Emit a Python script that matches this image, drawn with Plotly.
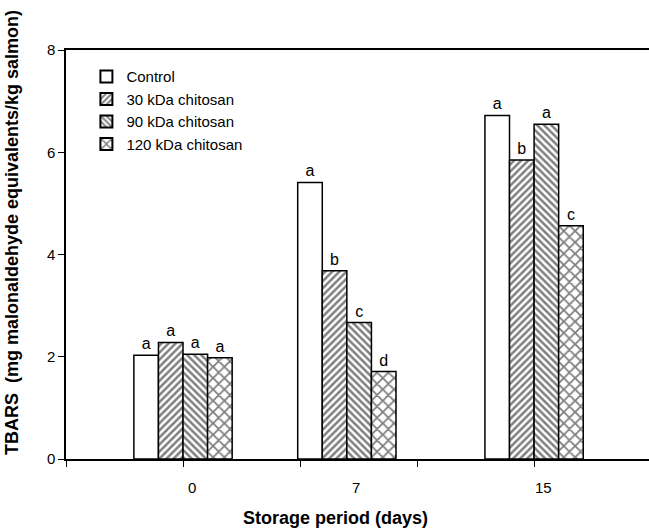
import plotly.graph_objects as go

days = [0, 7, 15]
series_names = ["Control", "30 kDa chitosan", "90 kDa chitosan", "120 kDa chitosan"]
control = [2.03, 5.41, 6.72]
kda30 = [2.28, 3.68, 5.85]
kda90 = [2.05, 2.67, 6.55]
kda120 = [1.98, 1.71, 4.56]
letters_control = ["a", "a", "a"]
letters_30 = ["a", "b", "b"]
letters_90 = ["a", "c", "a"]
letters_120 = ["a", "d", "c"]
x_tick_labels = ["0", "7", "15"]
y_ticks = [0, 2, 4, 6, 8]

values = [control, kda30, kda90, kda120]
letters = [letters_control, letters_30, letters_90, letters_120]
patterns = ["", "/", "\\", "x"]
psizes = [8, 5, 5, 8]
psolid = [0.3, 0.5, 0.5, 0.4]

font = "Liberation Sans, Arial, sans-serif"
bw = 1.05
fig = go.Figure()
for i, (name, v, lt) in enumerate(zip(series_names, values, letters)):
    fig.add_trace(go.Bar(
        x=days, y=v, name=name, width=bw, offset=-2 * bw + i * bw,
        marker=dict(color="white", line=dict(color="black", width=1.5),
                    pattern=dict(shape=patterns[i], fgcolor="black", bgcolor="white",
                                 size=psizes[i], solidity=psolid[i])),
        text=lt, textposition="outside", cliponaxis=False,
        textfont=dict(family=font, size=16, color="black"),
    ))

fig.update_layout(
    width=649, height=528, barmode="overlay",
    plot_bgcolor="white", paper_bgcolor="white",
    margin=dict(l=66, r=0, t=50, b=69),
    font=dict(family=font, size=15, color="black"),
    showlegend=True,
    legend=dict(x=0.035, y=0.975, xanchor="left", yanchor="top",
                bgcolor="rgba(0,0,0,0)", font=dict(size=15),
                tracegroupgap=0, itemsizing="constant"),
    xaxis=dict(range=[-5, 19.91], tickvals=[-5, 0, 5, 10, 15], ticktext=["", "", "", "", ""],
               ticks="outside", ticklen=6, tickcolor="black", tickwidth=1,
               showline=True, linecolor="black", linewidth=2, mirror=True,
               showgrid=False, zeroline=False),
    yaxis=dict(range=[0, 8], tickvals=y_ticks, ticks="outside", ticklen=6,
               tickcolor="black", tickwidth=1, showline=True, linecolor="black",
               linewidth=1.5, showgrid=False, zeroline=False,
               tickfont=dict(size=15)),
)

for d, lab in zip(days, x_tick_labels):
    fig.add_annotation(x=d, y=0, xref="x", yref="paper", text=lab, showarrow=False,
                       yanchor="top", yshift=-18, xshift=9, font=dict(size=15))

fig.add_annotation(xref="x domain", yref="y domain", x=(335 - 66) / 583, y=(459 - 518) / 409,
                   xanchor="center", yanchor="middle",
                   text="<b>Storage period (days)</b>", showarrow=False, font=dict(size=18))
fig.add_annotation(xref="x domain", yref="y domain", x=(12 - 66) / 583, y=(459 - 233) / 409,
                   xanchor="center", yanchor="middle",
                   text="<b>TBARS  (mg malonaldehyde equivalents/kg salmon)</b>",
                   textangle=-90, showarrow=False, font=dict(size=18))

fig.write_html("out.html", config={"displayModeBar": False},
               post_script="document.body.style.margin='0';document.body.style.overflow='hidden';")
